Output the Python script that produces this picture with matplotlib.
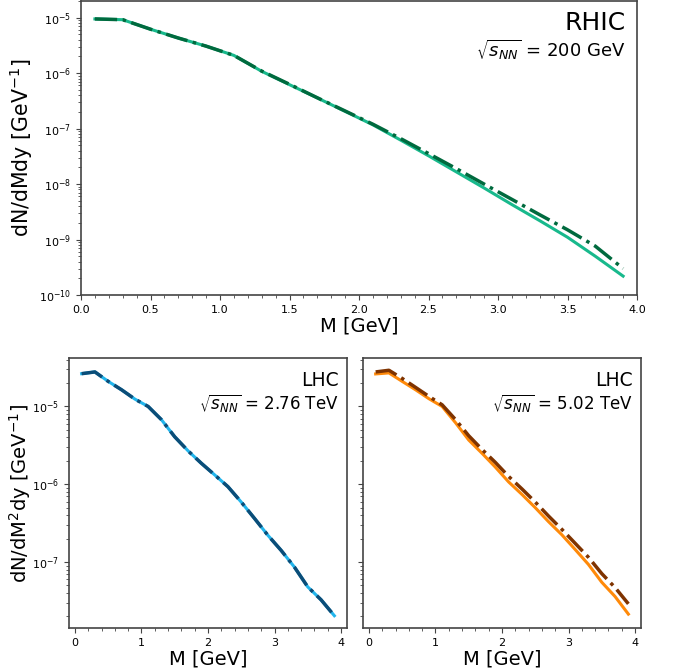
import numpy as np
import matplotlib
matplotlib.use("Agg")
import matplotlib.pyplot as plt
from matplotlib.ticker import AutoMinorLocator

# ---------------- data ----------------
M = [0.1, 0.3, 0.5, 0.7, 0.9, 1.1, 1.3, 1.5, 1.7, 1.9,
     2.1, 2.3, 2.5, 2.7, 2.9, 3.1, 3.3, 3.5, 3.7, 3.9]

rhic_solid = [9.5e-6, 9.2e-6, 6.2e-6, 4.3e-6, 3.07e-6, 2.09e-6, 1.08e-6, 6.2e-7, 3.58e-7, 2.05e-7,
              1.17e-7, 6.2e-8, 3.24e-8, 1.66e-8, 8.5e-9, 4.27e-9, 2.19e-9, 1.10e-9, 5.0e-10, 2.19e-10]
rhic_dashdot = [9.5e-6, 9.2e-6, 6.2e-6, 4.3e-6, 3.07e-6, 2.09e-6, 1.09e-6, 6.3e-7, 3.6e-7, 2.08e-7,
                1.2e-7, 6.6e-8, 3.55e-8, 1.9e-8, 1.0e-8, 5.3e-9, 2.8e-9, 1.5e-9, 7.6e-10, 3.0e-10]

lhc276_solid = [2.64e-5, 2.78e-5, 2.10e-5, 1.64e-5, 1.245e-5, 1.0e-5, 6.76e-6, 4.07e-6, 2.69e-6, 1.86e-6,
                1.32e-6, 9.3e-7, 5.9e-7, 3.63e-7, 2.21e-7, 1.41e-7, 8.6e-8, 4.79e-8, 3.27e-8, 2.04e-8]
lhc276_dashed = [2.64e-5, 2.78e-5, 2.10e-5, 1.64e-5, 1.245e-5, 1.0e-5, 6.76e-6, 4.07e-6, 2.69e-6, 1.86e-6,
                 1.32e-6, 9.3e-7, 5.9e-7, 3.63e-7, 2.21e-7, 1.41e-7, 8.6e-8, 4.79e-8, 3.27e-8, 2.04e-8]

lhc502_solid = [2.62e-5, 2.70e-5, 2.10e-5, 1.64e-5, 1.26e-5, 1.0e-5, 6.2e-6, 3.7e-6, 2.5e-6, 1.66e-6,
                1.07e-6, 7.4e-7, 5.0e-7, 3.3e-7, 2.24e-7, 1.45e-7, 9.3e-8, 5.5e-8, 3.6e-8, 2.14e-8]
lhc502_dashdot = [2.78e-5, 2.92e-5, 2.29e-5, 1.76e-5, 1.35e-5, 1.05e-5, 6.8e-6, 4.2e-6, 2.8e-6, 1.91e-6,
                  1.26e-6, 8.7e-7, 5.9e-7, 3.9e-7, 2.63e-7, 1.74e-7, 1.15e-7, 7.1e-8, 4.7e-8, 2.9e-8]

rhic_title = "RHIC"
rhic_energy = r"$\sqrt{s_{NN}}$ = 200 GeV"
lhc_title = "LHC"
lhc276_energy = r"$\sqrt{s_{NN}}$ = 2.76 TeV"
lhc502_energy = r"$\sqrt{s_{NN}}$ = 5.02 TeV"

# ---------------- figure ----------------
W, H = 678, 671
fig = plt.figure(figsize=(W / 100, H / 100), dpi=100)


def rect(l, r, t, b):
    return [l / W, 1 - b / H, (r - l) / W, (b - t) / H]


ax_top = fig.add_axes(rect(81, 637, 1, 295))
ax_bl = fig.add_axes(rect(69, 347, 358, 628))
ax_br = fig.add_axes(rect(363, 641, 358, 628), sharey=ax_bl)

spine_col = "#444444"
for ax in (ax_top, ax_bl, ax_br):
    for s in ax.spines.values():
        s.set_color(spine_col)
        s.set_linewidth(1.2)
    ax.set_yscale("log")
    ax.xaxis.set_minor_locator(AutoMinorLocator())
    ax.tick_params(axis="both", which="major", labelsize=8, color=spine_col)
    ax.tick_params(axis="both", which="minor", color=spine_col)

# top panel
ax_top.plot(M, rhic_solid, color="#18b98c", lw=2.2)
ax_top.plot(M, rhic_dashdot, color="#006a3e", lw=2.5, ls="-.")
ax_top.set_xlim(0, 4)
ax_top.set_ylim(1e-10, 2e-5)
ax_top.set_xlabel("M [GeV]", fontsize=14, labelpad=1)
ax_top.set_ylabel(r"dN/dMdy [GeV$^{-1}$]", fontsize=14.8)
ax_top.yaxis.set_label_coords(-0.083, 0.5)
ax_top.text(0.98, 0.965, rhic_title, transform=ax_top.transAxes, ha="right", va="top", fontsize=18)
ax_top.text(0.98, 0.875, rhic_energy, transform=ax_top.transAxes, ha="right", va="top", fontsize=13)

# bottom left
ax_bl.plot(M, lhc276_solid, color="#22b5ec", lw=2.2)
ax_bl.plot(M, lhc276_dashed, color="#0b4d78", lw=2.5, ls="-.")
ax_bl.set_xlabel("M [GeV]", fontsize=14, labelpad=1)
ax_bl.set_ylabel(r"dN/dM$^2$dy [GeV$^{-1}$]", fontsize=14)
ax_bl.yaxis.set_label_coords(-0.13, 0.5)
ax_bl.text(0.97, 0.95, lhc_title, transform=ax_bl.transAxes, ha="right", va="top", fontsize=13.5)
ax_bl.text(0.97, 0.87, lhc276_energy, transform=ax_bl.transAxes, ha="right", va="top", fontsize=12)

# bottom right
ax_br.plot(M, lhc502_solid, color="#ff8a0a", lw=2.2)
ax_br.plot(M, lhc502_dashdot, color="#7f3300", lw=2.5, ls="-.")
ax_br.set_xlabel("M [GeV]", fontsize=14, labelpad=1)
ax_br.tick_params(axis="y", which="both", labelleft=False)
ax_br.text(0.97, 0.95, lhc_title, transform=ax_br.transAxes, ha="right", va="top", fontsize=13.5)
ax_br.text(0.97, 0.87, lhc502_energy, transform=ax_br.transAxes, ha="right", va="top", fontsize=12)

fig.savefig("out.png", dpi=100)
